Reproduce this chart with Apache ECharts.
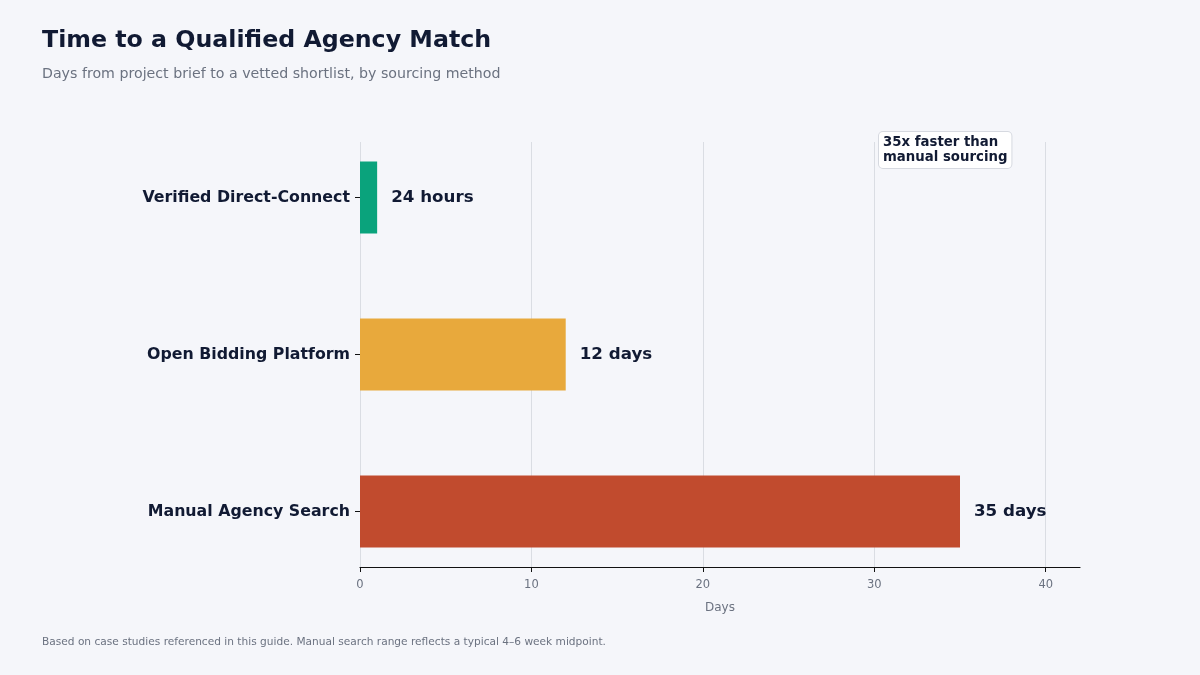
<!DOCTYPE html>
<html>
<head>
<meta charset="utf-8">
<script src="https://cdn.jsdelivr.net/npm/echarts@6/dist/echarts.min.js"></script>
<style>
  html, body { margin: 0; padding: 0; background: #f5f6fa; }
  #chart { width: 1200px; height: 675px; }
</style>
</head>
<body>
<div id="chart"></div>
<script>
const categories = ['Manual Agency Search', 'Open Bidding Platform', 'Verified Direct-Connect'];
const days = [35, 12, 1];
const valueLabels = ['35 days', '12 days', '24 hours'];
const barColors = ['#c14b2e', '#e8a93c', '#0aa37c'];
const xTicks = [0, 10, 20, 30, 40];

const font = 'DejaVu Sans';
const chart = echarts.init(document.getElementById('chart'));

chart.setOption({
    backgroundColor: '#f5f6fa',
    textStyle: { fontFamily: font },
    title: [
        {
            text: 'Time to a Qualified Agency Match',
            left: 42,
            top: 29,
            padding: 0,
            textStyle: { fontFamily: font, fontSize: 23.7, fontWeight: 'bold', color: '#111a33' }
        },
        {
            text: 'Days from project brief to a vetted shortlist, by sourcing method',
            left: 42,
            top: 67,
            padding: 0,
            textStyle: { fontFamily: font, fontSize: 14.2, fontWeight: 'normal', color: '#6b7280' }
        },
        {
            text: 'Based on case studies referenced in this guide. Manual search range reflects a typical 4\u20136 week midpoint.',
            left: 42,
            top: 637,
            padding: 0,
            textStyle: { fontFamily: font, fontSize: 10.6, fontWeight: 'normal', color: '#6b7280' }
        }
    ],
    grid: [
        // axis frame: gridlines and x axis
        { left: 360, right: 120, top: 142, bottom: 108 },
        // bars with wider category bands (matplotlib-like margins)
        { left: 360, right: 120, top: 119, bottom: 85 }
    ],
    xAxis: [
        {
            gridIndex: 0,
            type: 'value',
            min: 0,
            max: 42,
            interval: 10,
            name: 'Days',
            nameLocation: 'middle',
            nameGap: 35,
            nameTextStyle: { fontFamily: font, fontSize: 12, color: '#6b7280' },
            axisLine: { show: true, lineStyle: { color: '#111111', width: 1.2 } },
            axisTick: { show: true, length: 5, customValues: xTicks, lineStyle: { color: '#111111' } },
            axisLabel: {
                fontFamily: font, fontSize: 11.5, color: '#6b7280', margin: 12,
                customValues: xTicks
            },
            splitLine: { show: true, lineStyle: { color: '#dadde3', width: 1 } }
        },
        {
            gridIndex: 1,
            type: 'value',
            min: 0,
            max: 42,
            show: false
        }
    ],
    yAxis: [
        {
            gridIndex: 0,
            type: 'category',
            data: categories,
            show: false
        },
        {
            gridIndex: 1,
            type: 'category',
            data: categories,
            axisLine: { show: false },
            axisTick: { show: true, alignWithLabel: true, length: 5, lineStyle: { color: '#111111' } },
            axisLabel: {
                fontFamily: font, fontSize: 15.8, fontWeight: 'bold', color: '#111a33', margin: 10
            },
            splitLine: { show: false }
        }
    ],
    series: [
        {
            type: 'bar',
            xAxisIndex: 1,
            yAxisIndex: 1,
            barWidth: 72,
            data: days.map((v, i) => ({ value: v, itemStyle: { color: barColors[i] } })),
            label: {
                show: true,
                position: 'right',
                distance: 14,
                fontFamily: font,
                fontSize: 16.7,
                fontWeight: 'bold',
                color: '#111a33',
                formatter: p => valueLabels[p.dataIndex]
            }
        }
    ],
    graphic: [
        {
            type: 'text',
            left: 878,
            top: 131,
            style: {
                text: '35x faster than\nmanual sourcing',
                fontFamily: font,
                fontSize: 13.3,
                fontWeight: 'bold',
                fill: '#111a33',
                lineHeight: 15,
                backgroundColor: '#ffffff',
                borderColor: '#d6d9e0',
                borderWidth: 1,
                borderRadius: 4,
                padding: [3, 4, 3, 4]
            }
        }
    ]
});
</script>
</body>
</html>
